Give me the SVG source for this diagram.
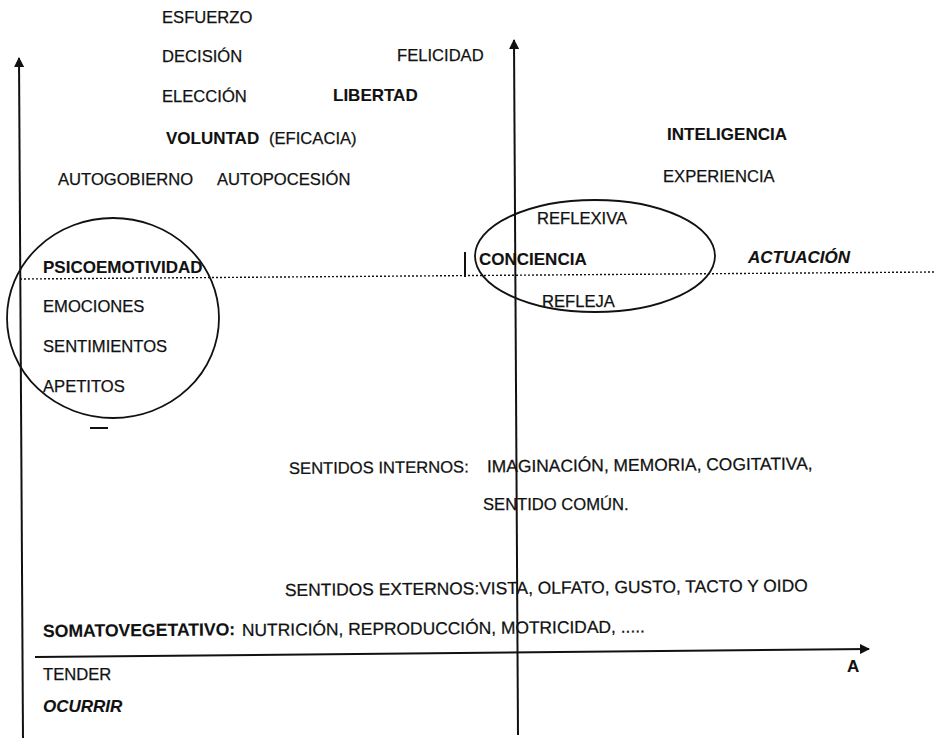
<svg xmlns="http://www.w3.org/2000/svg" width="934" height="741" viewBox="0 0 934 741">
<style>
text{font-family:"Liberation Sans",Arial,sans-serif;font-size:16.6px;fill:#111;stroke:#111;stroke-width:0.25}
.b{font-weight:bold;font-size:17px;stroke-width:0.1}
.bi{font-weight:bold;font-style:italic;font-size:17px;stroke-width:0.1}
.w{font-size:17.4px}
.ax{stroke:#111;stroke-width:2;fill:none}
.sh{stroke:#111;stroke-width:1.8;fill:none}
.dot{stroke:#111;stroke-width:1.4;stroke-dasharray:2 2;fill:none}
</style>
<defs>
<marker id="arr" viewBox="0 0 10 10" refX="9" refY="5" markerWidth="5" markerHeight="5" orient="auto" markerUnits="strokeWidth">
<path d="M0,0 L10,5 L0,10 z" fill="#111"/>
</marker>
</defs>
<rect width="934" height="741" fill="#fff"/>
<g id="connectors">
<line class="ax" x1="23" y1="738" x2="19" y2="58" marker-end="url(#arr)"/>
<line class="ax" x1="518" y1="735" x2="514" y2="40" marker-end="url(#arr)"/>
<line class="ax" x1="35" y1="657" x2="869" y2="649" marker-end="url(#arr)"/>
<line class="dot" x1="20" y1="279" x2="934" y2="272"/>
<line class="ax" x1="465" y1="252" x2="465" y2="277"/>
<line class="ax" x1="90" y1="428" x2="108" y2="428"/>
</g>
<g id="psicoemotividad">
<ellipse class="sh" cx="113" cy="318" rx="106" ry="100"/>
<text class="b" x="43" y="273">PSICOEMOTIVIDAD</text>
<text x="43" y="312">EMOCIONES</text>
<text x="43" y="352">SENTIMIENTOS</text>
<text x="43" y="392">APETITOS</text>
</g>
<g id="conciencia">
<ellipse class="sh" cx="595" cy="256" rx="120" ry="56"/>
<text x="537" y="224">REFLEXIVA</text>
<text class="b" x="479" y="265">CONCIENCIA</text>
<text x="542" y="307">REFLEJA</text>
</g>
<g id="voluntad">
<text x="162" y="23">ESFUERZO</text>
<text x="162" y="62">DECISIÓN</text>
<text x="162" y="102">ELECCIÓN</text>
<text class="b" x="166" y="144">VOLUNTAD</text>
<text x="269" y="144">(EFICACIA)</text>
<text x="58" y="185">AUTOGOBIERNO</text>
<text x="217" y="185">AUTOPOCESIÓN</text>
</g>
<g id="felicidad"><text x="397" y="61">FELICIDAD</text></g>
<g id="libertad"><text class="b" x="333" y="101">LIBERTAD</text></g>
<g id="inteligencia">
<text class="b" x="667" y="140">INTELIGENCIA</text>
<text x="663" y="182">EXPERIENCIA</text>
</g>
<g id="actuacion"><text class="bi" x="748" y="263">ACTUACIÓN</text></g>
<g id="sentidos-internos">
<text x="289" y="474" transform="rotate(-0.5 289 474)">SENTIDOS INTERNOS:<tspan class="w" x="487">IMAGINACIÓN, MEMORIA, COGITATIVA,</tspan></text>
<text x="483" y="510">SENTIDO COMÚN.</text>
</g>
<g id="sentidos-externos">
<text class="w" x="285" y="596" transform="rotate(-0.5 285 596)">SENTIDOS EXTERNOS:VISTA, OLFATO, GUSTO, TACTO Y OIDO</text>
</g>
<g id="somatovegetativo">
<text class="b" x="43" y="637" style="font-size:17.6px" transform="rotate(-0.5 43 637)">SOMATOVEGETATIVO:</text>
<text class="w" x="242" y="636" transform="rotate(-0.5 242 636)">NUTRICIÓN, REPRODUCCIÓN, MOTRICIDAD, .....</text>
</g>
<g id="tender"><text x="43" y="680">TENDER</text></g>
<g id="ocurrir"><text class="bi" x="43" y="712">OCURRIR</text></g>
<g id="a"><text class="b" x="847" y="672">A</text></g>
</svg>
